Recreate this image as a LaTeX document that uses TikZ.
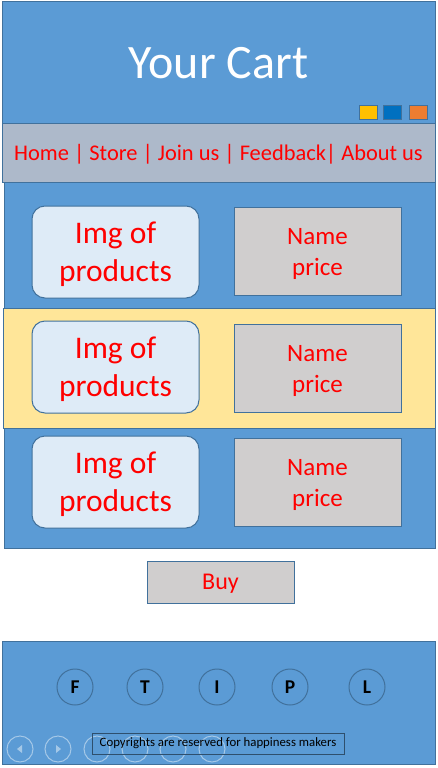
\documentclass[tikz,border=0pt]{standalone}
\usepackage{fontspec}
\setmainfont{Carlito}
\definecolor{hdrblue}{HTML}{5B9BD5}
\definecolor{lineblue}{HTML}{41719C}
\definecolor{navgray}{HTML}{ADB9CA}
\definecolor{imgfill}{HTML}{DEEBF7}
\definecolor{boxgray}{HTML}{D0CECE}
\definecolor{rowyellow}{HTML}{FFE699}
\definecolor{sqyellow}{HTML}{FFC000}
\definecolor{sqblue}{HTML}{0070C0}
\definecolor{sqorange}{HTML}{ED7D31}
\begin{document}
\begin{tikzpicture}[x = 1pt, y = -1pt, line width = 1pt,
  panel/.style = {rectangle, draw = lineblue, inner sep = 0pt},
  imgbox/.style = {rectangle, rounded corners = 13pt, fill = imgfill, draw = lineblue, minimum width = 167pt, minimum height = 92pt, text = red, align = center, text depth = 0pt, font = \fontsize{31.5}{38}\selectfont},
  namebox/.style = {rectangle, fill = boxgray, draw = lineblue, minimum width = 167pt, minimum height = 88pt, text = red, align = center, text depth = 0pt, font = \fontsize{25}{31}\selectfont},
  colsq/.style = {rectangle, draw = lineblue, minimum width = 18pt, minimum height = 14pt, inner sep = 0pt},
  social/.style = {circle, draw = lineblue, minimum size = 36pt, inner sep = 0pt, font = \fontsize{19.5}{20}\selectfont\bfseries},
  ctrl/.style = {circle, draw = white, draw opacity = 0.45, minimum size = 26pt, inner sep = 0pt}]

\useasboundingbox[fill = white] (0, 0) rectangle (437, 768);

%%% Header
\node[panel, fill = hdrblue, minimum width = 433pt, minimum height = 121pt] (header) at (218.5, 62.5) {};
\node[text = white, font = \fontsize{48}{52}\selectfont] (title) at (218.5, 63) {Your Cart};

\node[colsq, fill = sqyellow] (sq1) at (368, 112) {};
\node[colsq, fill = sqblue]   (sq2) at (392.5, 112) {};
\node[colsq, fill = sqorange] (sq3) at (418, 112) {};

%%% Menu
\node[panel, fill = navgray, minimum width = 433pt, minimum height = 59pt, text depth = 0pt, text = red, font = \fontsize{22.4}{26}\selectfont] (menu) at (218.5, 152.5) {Home | Store | Join us | Feedback| About us};

%%% Products
\node[panel, fill = hdrblue, minimum width = 431pt, minimum height = 366pt] (products) at (219.5, 365) {};
\node[panel, fill = rowyellow, minimum width = 432pt, minimum height = 120pt] (row2) at (219, 368) {};

\foreach \n/\y/\z in {1/252/251.5, 2/367/368.5, 3/482/482.5}
{
  \node[imgbox] (img\n) at (115.5, \y) {Img of\\products};
  \node[namebox] (name\n) at (317.5, \z) {Name\\price};
}

\node[rectangle, fill = boxgray, draw = lineblue, minimum width = 147pt, minimum height = 42pt, text depth = 0pt, text = red, font = \fontsize{24}{28}\selectfont] (buy) at (220.5, 582) {Buy};

%%% Footer
\node[panel, fill = hdrblue, minimum width = 433pt, minimum height = 123pt] (footer) at (218.5, 702.5) {};

\foreach \x/\l in {75/F, 145/T, 217/I, 290/P, 367/L}
  \node[social] (soc\l) at (\x, 687) {\l};

%% slide show controls
\foreach \x/\c in {20/a, 58/b, 97/c, 135/d, 173/e, 212/f}
  \node[ctrl] (ctrl\c) at (\x, 749) {};
\fill[white, opacity = 0.45] (17, 749) -- (22, 745) -- (22, 753) -- cycle;
\fill[white, opacity = 0.45] (61, 749) -- (56, 745) -- (56, 753) -- cycle;

\node[rectangle, draw = lineblue!70!black, line width = 0.6pt, minimum width = 252pt, minimum height = 21pt, inner sep = 0pt, font = \fontsize{12.8}{14}\selectfont] (copy) at (218, 743.5) {Copyrights are reserved for happiness makers};

\end{tikzpicture}
\end{document}
